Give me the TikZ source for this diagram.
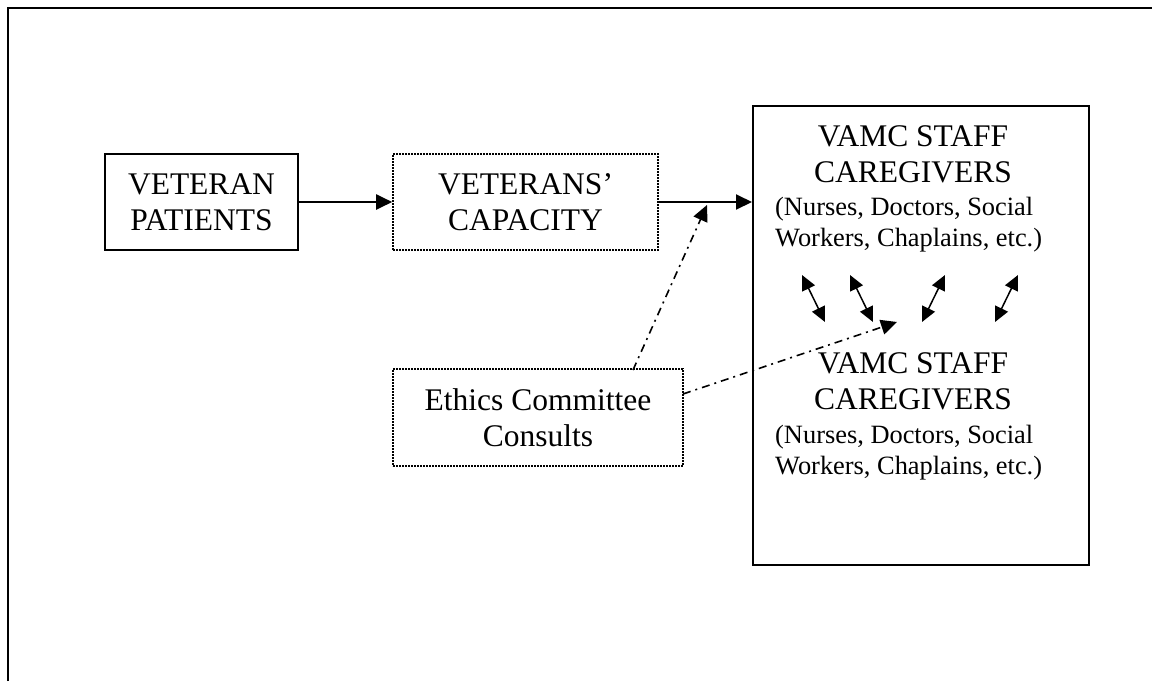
\documentclass[tikz,border=0pt]{standalone}
\usepackage{fontspec}
\setmainfont{Liberation Serif}
\usetikzlibrary{arrows.meta}
\tikzset{
  big/.style={font=\fontsize{31.5}{36}\selectfont, align=center, inner sep=0pt},
  small/.style={font=\fontsize{26.4}{31}\selectfont, align=left, inner sep=0pt},
  solidbox/.style={draw, line width=2pt, inner sep=0pt},
  dotbox/.style={draw, line width=1.6pt, dash pattern=on 1.6pt off 1.4pt, inner sep=0pt},
  tip/.style={-{Triangle[length=16pt,width=15pt]}},
  dtip/.style={{Triangle[length=15pt,width=14pt]}-{Triangle[length=15pt,width=14pt]}, line width=1.5pt},
  flow/.style={line width=2pt, tip},
  dashdot/.style={line width=1.6pt, dash pattern=on 8pt off 5pt on 2pt off 5pt, -{Triangle[length=16pt,width=15pt]}}
}
\begin{document}
\begin{tikzpicture}[x=1pt,y=-1pt]
\useasboundingbox (0,0) rectangle (1152,681);
% outer frame (top and left edges)
\draw[line width=2.5pt] (8,681) -- (8,8) -- (1152,8);

\node[solidbox, minimum width=193pt, minimum height=96pt] (vp) at (201.5,202) {};
\node[big] (vpt) at (201.5,202.5) {VETERAN\\PATIENTS};

\node[dotbox, minimum width=265pt, minimum height=96pt] (cap) at (525.5,202) {};
\node[big] (capt) at (525.5,202.5) {VETERANS’\\CAPACITY};

\node[solidbox, minimum width=336pt, minimum height=459pt] (staff) at (921,335.5) {};
\node[big] (sa) at (913,154) {VAMC STAFF\\CAREGIVERS};
\node[small, anchor=west] (sb) at (775,225) {(Nurses, Doctors, Social\\Workers, Chaplains, etc.)};
\node[big] (sc) at (913,381) {VAMC STAFF\\CAREGIVERS};
\node[small, anchor=west] (sd) at (775,452.5) {(Nurses, Doctors, Social\\Workers, Chaplains, etc.)};

\node[dotbox, minimum width=290pt, minimum height=97pt] (eth) at (538,417.5) {};
\node[big] (etht) at (538,417.5) {Ethics Committee\\Consults};

\draw[flow] (vp.east) -- (cap.west);
\draw[flow] (cap.east) -- (cap.east -| staff.west);

\coordinate (e1) at (707,205);
\coordinate (e2) at (897,322);
\draw[dashdot] (633,370) -- (e1);
\draw[dashdot] (683,394) -- (e2);

\coordinate (a1) at (802,275); \coordinate (b1) at (825,322);
\coordinate (a2) at (850,275); \coordinate (b2) at (873,322);
\coordinate (a3) at (945,275); \coordinate (b3) at (922,322);
\coordinate (a4) at (1018,275); \coordinate (b4) at (995,322);
\draw[dtip] (a1) -- (b1);
\draw[dtip] (a2) -- (b2);
\draw[dtip] (a3) -- (b3);
\draw[dtip] (a4) -- (b4);
\end{tikzpicture}
\end{document}
